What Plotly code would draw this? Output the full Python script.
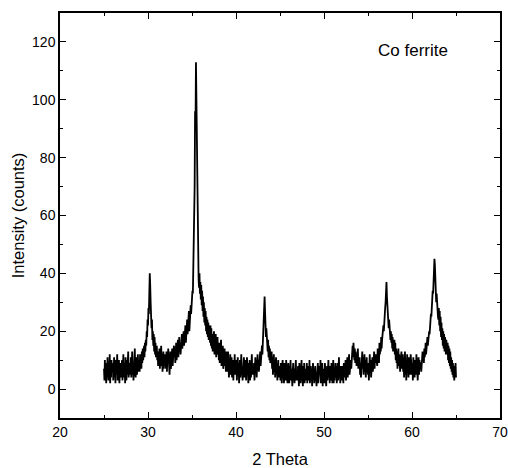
import plotly.graph_objects as go

# Intensity (counts), one row per degree of 2-theta, 0.05 deg steps
start_deg = 25
step = 0.05
rows = [
    [7, 3, 10, 5, 9, 2, 8, 4, 11, 6, 3, 9, 5, 12, 2, 7, 4, 10, 6, 8],             # 25
    [9, 3, 6, 11, 4, 8, 2, 10, 5, 7, 12, 3, 8, 5, 10, 2, 6, 9, 4, 7],             # 26
    [5, 10, 3, 8, 12, 4, 6, 9, 2, 11, 7, 3, 10, 5, 8, 13, 4, 7, 9, 5],            # 27
    [6, 11, 4, 8, 13, 5, 9, 3, 10, 7, 14, 6, 4, 9, 11, 5, 8, 12, 6, 9],           # 28
    [10, 6, 12, 8, 11, 7, 13, 9, 14, 10, 12, 15, 11, 16, 13, 17, 15, 20, 18, 24], # 29
    [22, 28, 26, 33, 40, 36, 30, 25, 21, 24, 17, 20, 15, 19, 13, 18, 12, 16, 11, 14],  # 30
    [15, 10, 13, 8, 12, 9, 14, 7, 11, 10, 15, 8, 12, 6, 10, 13, 7, 11, 9, 12],    # 31
    [10, 7, 13, 6, 11, 9, 14, 8, 12, 5, 10, 13, 7, 11, 9, 14, 8, 12, 10, 15],     # 32
    [11, 14, 9, 13, 16, 10, 15, 12, 17, 11, 14, 18, 13, 16, 12, 17, 15, 19, 14, 18],  # 33
    [16, 20, 15, 19, 17, 22, 16, 20, 18, 24, 19, 23, 21, 27, 20, 25, 23, 29, 26, 31],  # 34
    [29, 34, 33, 40, 45, 58, 70, 96, 90, 113, 100, 78, 60, 50, 44, 38, 35, 40, 33, 37],  # 35
    [31, 36, 29, 34, 27, 32, 25, 30, 23, 28, 22, 27, 20, 25, 19, 24, 18, 23, 17, 22],  # 36
    [20, 16, 22, 15, 21, 14, 19, 13, 18, 16, 20, 12, 17, 14, 19, 11, 16, 13, 18, 12],  # 37
    [15, 10, 16, 9, 14, 11, 17, 8, 13, 10, 15, 7, 12, 9, 14, 8, 11, 6, 13, 9],    # 38
    [11, 6, 13, 8, 4, 10, 7, 12, 5, 9, 11, 4, 8, 10, 3, 9, 6, 12, 5, 8],          # 39
    [6, 10, 3, 8, 11, 5, 9, 2, 7, 10, 4, 8, 12, 5, 7, 3, 9, 6, 11, 4],            # 40
    [8, 4, 10, 3, 7, 11, 5, 9, 2, 8, 6, 10, 3, 7, 4, 9, 12, 5, 8, 6],             # 41
    [5, 9, 3, 8, 11, 6, 10, 4, 8, 12, 7, 10, 6, 11, 9, 13, 8, 12, 10, 15],        # 42
    [12, 17, 15, 22, 25, 32, 27, 22, 18, 21, 15, 19, 13, 17, 11, 15, 10, 14, 9, 12],  # 43
    [10, 13, 7, 11, 5, 9, 12, 6, 10, 4, 8, 11, 5, 9, 3, 7, 10, 4, 8, 6],          # 44
    [7, 3, 9, 5, 2, 8, 10, 4, 6, 2, 9, 5, 7, 3, 10, 4, 8, 2, 6, 9],               # 45
    [6, 2, 8, 4, 10, 3, 7, 5, 1, 6, 9, 3, 7, 2, 8, 5, 10, 3, 6, 4],               # 46
    [3, 8, 5, 1, 9, 4, 6, 2, 7, 10, 3, 6, 1, 8, 4, 9, 2, 7, 5, 3],                # 47
    [5, 9, 2, 6, 3, 8, 4, 10, 2, 5, 8, 3, 7, 1, 6, 9, 4, 7, 2, 8],                # 48
    [8, 3, 6, 1, 7, 4, 9, 2, 5, 3, 8, 5, 10, 2, 6, 4, 9, 1, 7, 3],                # 49
    [6, 2, 9, 4, 7, 1, 5, 8, 3, 6, 10, 4, 7, 2, 8, 5, 3, 9, 6, 2],                # 50
    [4, 10, 2, 7, 3, 6, 9, 4, 8, 2, 5, 9, 3, 7, 11, 4, 6, 2, 8, 5],               # 51
    [6, 3, 8, 5, 2, 9, 4, 7, 5, 10, 3, 8, 6, 11, 4, 9, 7, 12, 5, 8],              # 52
    [6, 10, 7, 12, 9, 15, 11, 16, 13, 10, 14, 9, 13, 11, 8, 12, 9, 14, 7, 11],    # 53
    [7, 11, 5, 9, 4, 10, 6, 13, 7, 11, 5, 9, 12, 6, 10, 4, 8, 11, 6, 9],          # 54
    [5, 9, 3, 8, 12, 6, 10, 4, 9, 7, 11, 6, 10, 8, 13, 7, 11, 9, 12, 10],         # 55
    [11, 8, 14, 10, 13, 9, 16, 12, 15, 13, 18, 14, 17, 20, 18, 22, 20, 25, 23, 28],  # 56
    [30, 34, 37, 32, 28, 24, 26, 21, 24, 19, 22, 17, 20, 16, 19, 14, 18, 13, 17, 15],  # 57
    [17, 12, 16, 10, 14, 9, 13, 7, 11, 14, 8, 12, 10, 6, 11, 9, 13, 7, 10, 12],   # 58
    [6, 11, 4, 9, 13, 5, 10, 3, 8, 12, 6, 9, 4, 11, 7, 10, 5, 12, 8, 6],          # 59
    [5, 9, 3, 11, 6, 8, 4, 10, 7, 5, 12, 6, 9, 3, 8, 11, 5, 10, 7, 9],            # 60
    [9, 6, 11, 8, 13, 10, 12, 9, 14, 11, 13, 16, 12, 15, 14, 18, 15, 17, 16, 20], # 61
    [19, 23, 21, 26, 25, 30, 28, 34, 33, 39, 40, 45, 43, 38, 36, 30, 33, 27, 31, 25],  # 62
    [24, 28, 22, 27, 20, 25, 18, 23, 17, 21, 15, 20, 14, 19, 13, 18, 16, 12, 17, 14],  # 63
    [12, 16, 10, 15, 9, 14, 8, 13, 7, 11, 6, 10, 5, 9, 4, 8, 3, 7, 5, 9],         # 64
    [4],                                                                          # 65
]

two_theta = []
intensity = []
for d, row in enumerate(rows):
    for j, v in enumerate(row):
        two_theta.append(round(start_deg + d + step * j, 2))
        intensity.append(v)

x_ticks = [20, 30, 40, 50, 60, 70]
y_ticks = [0, 20, 40, 60, 80, 100, 120]
label_text = "Co ferrite"

fig = go.Figure()
fig.add_trace(go.Scatter(
    x=two_theta, y=intensity, mode="lines",
    line=dict(color="black", width=1.8), showlegend=False,
))

fam = "Liberation Sans, Arial, sans-serif"
font = dict(family=fam, size=14, color="black")
title_font = dict(family=fam, size=16.5, color="black")

axis_common = dict(
    showline=True, linecolor="black", linewidth=1.5, mirror="allticks",
    ticks="inside", ticklen=6, tickwidth=1.2, tickcolor="black",
    showgrid=False, zeroline=False, tickfont=font, automargin=False,
)

fig.update_xaxes(
    range=[20, 70], tickvals=x_ticks,
    minor=dict(ticks="inside", ticklen=3, tickwidth=1, tickcolor="black", dtick=5, tick0=0),
    title=dict(text="2 Theta", font=title_font, standoff=16),
    **axis_common,
)
fig.update_yaxes(
    range=[-10, 130], tickvals=y_ticks,
    minor=dict(ticks="inside", ticklen=3, tickwidth=1, tickcolor="black", dtick=10, tick0=0),
    title=dict(text="Intensity (counts)", font=title_font, standoff=3),
    **axis_common,
)

fig.add_annotation(
    x=60.1, y=117, text=label_text, showarrow=False,
    font=dict(family=fam, size=17, color="black"),
)

fig.update_layout(
    width=508, height=468,
    margin=dict(l=60, r=8, t=13, b=50),
    paper_bgcolor="white", plot_bgcolor="white",
)

fig.write_html(
    "out.html",
    config={"displayModeBar": False},
    post_script="document.body.style.margin='0';document.body.style.overflow='hidden';",
)
